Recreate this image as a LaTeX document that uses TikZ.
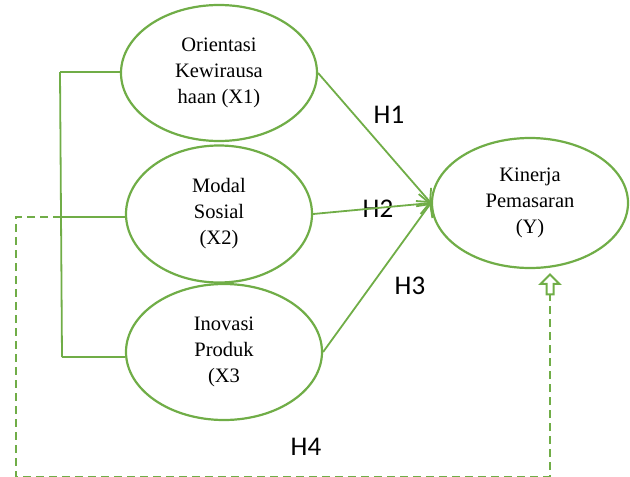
\documentclass[tikz,border=0pt]{standalone}
\usepackage{fontspec}
\setmainfont{Liberation Serif}
\newfontfamily\calibri{Carlito}
\usetikzlibrary{arrows.meta,shapes.geometric,shapes.arrows}
\definecolor{hgreen}{RGB}{112,173,71}

\begin{document}
\begin{tikzpicture}[x=1pt, y=-1pt]
\tikzstyle{var} = [ellipse, draw=hgreen, line width=2.2pt, inner sep=0pt, align=center, font=\fontsize{20.5}{26}\selectfont]
\tikzstyle{hyp} = [draw=hgreen, line width=1.8pt, -{Straight Barb[length=10pt, width=20pt]}]
\tikzstyle{link} = [draw=hgreen, line width=1.8pt]
\tikzstyle{dline} = [draw=hgreen, line width=1.8pt, dash pattern=on 8pt off 5pt]
\tikzstyle{lbl} = [font=\calibri\fontsize{27}{30}\selectfont]
\useasboundingbox (0,0) rectangle (630,477);

\node[var, minimum width=196, minimum height=136] (x1) at (219,73) {Orientasi\\Kewirausa\\haan (X1)};
\node[var, minimum width=186, minimum height=137] (x2) at (219,214) {Modal\\Sosial\\(X2)};
\node[var, minimum width=196, minimum height=136] (x3) at (224,352) {Inovasi\\Produk\\(X3};
\node[var, minimum width=196, minimum height=130] (y) at (530,203) {Kinerja\\Pemasaran\\(Y)};

\node[lbl] (h1) at (389,115) {H1};
\node[lbl] (h2) at (378,209) {H2};
\node[lbl] (h3) at (410,286) {H3};
\node[lbl] (h4) at (306,447) {H4};

% bracket on the left
\coordinate (b1) at (60,72);
\coordinate (b2) at (61,217);
\coordinate (b3) at (62,357);
\draw[link] (b1) -- (b3);
\draw[link] (b1) -- (b1 -| x1.west);
\draw[link] (b2) -- (b2 -| x2.west);
\draw[link] (b3) -- (b3 -| x3.west);

\draw[hyp] (x1.east) -- (y.west);
\draw[hyp] (x2.east) -- (y.west);
\draw[hyp] (x3.east) -- (y.west);

% H4 path
\node[single arrow, draw=hgreen, line width=2pt, rotate=90, minimum height=20, inner sep=2.5pt, single arrow head extend=6pt, anchor=tip] (tip) at (550,273) {};
\coordinate (d1) at (16,217);
\coordinate (d2) at (16,476.6);
\coordinate (d3) at (550,476.6);
\draw[dline] (b2) -- (d1) -- (d2) -- (d3) -- (tip.tail);
\end{tikzpicture}
\end{document}
